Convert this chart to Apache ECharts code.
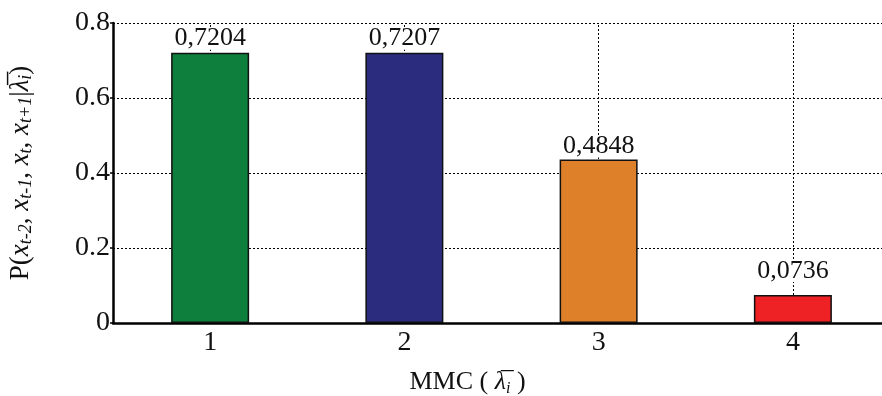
<!DOCTYPE html>
<html><head><meta charset="utf-8">
<script src="https://cdn.jsdelivr.net/npm/echarts@6/dist/echarts.min.js"></script>
<style>html,body{margin:0;padding:0;background:#fff}#c{width:882px;height:396px}</style>
</head><body><div id="c"></div>
<script>
const categories = ['1', '2', '3', '4'];
const barValues = [0.721, 0.721, 0.436, 0.075];
const barLabels = ['0,7204', '0,7207', '0,4848', '0,0736'];
const barColors = ['#0f7f3e', '#2b2c7e', '#de7f2a', '#ee2124'];
const labelGaps = [3, 3, 2, 13];
const yTicks = [0, 0.2, 0.4, 0.6, 0.8];

const FONT = 'Liberation Serif';
const chart = echarts.init(document.getElementById('c'), null, {renderer: 'canvas'});
chart.setOption({
  animation: false,
  backgroundColor: '#fff',
  grid: {left: 113, right: -8, top: 23, bottom: 73, containLabel: false, outerBoundsMode: 'none'},
  xAxis: {
    type: 'category',
    data: categories,
    name: 'MMC ( {i|λ̅}{s|i} )',
    nameLocation: 'middle',
    nameGap: 44,
    nameTextStyle: {
      fontFamily: FONT, fontSize: 26, color: '#111', padding: [0, 68, 0, 0],
      rich: {
        i: {fontFamily: FONT, fontStyle: 'italic', fontSize: 26, color: '#111'},
        s: {fontFamily: FONT, fontStyle: 'italic', fontSize: 16, color: '#111', padding: [14, 0, 0, 0]}
      }
    },
    axisLine: {lineStyle: {color: '#000', width: 2.5}},
    axisTick: {show: false},
    axisLabel: {fontFamily: FONT, fontSize: 28, color: '#111', margin: 6},
    splitLine: {show: false}
  },
  yAxis: {
    type: 'value',
    min: 0, max: 0.8, interval: 0.2,
    name: '{n|P(}{i|x}{s|t-2}{n|, }{i|x}{s|t-1}{n|, }{i|x}{s|t}{n|, }{i|x}{s|t+1}{n||}{i|λ̅}{s|i}{n|)}',
    nameLocation: 'middle',
    nameRotate: 90,
    nameGap: 78,
    nameTextStyle: {
      rich: {
        n: {fontFamily: FONT, fontSize: 27, color: '#111'},
        i: {fontFamily: FONT, fontStyle: 'italic', fontSize: 27, color: '#111'},
        s: {fontFamily: FONT, fontStyle: 'italic', fontSize: 18, color: '#111', padding: [11, 0, 0, 0]}
      }
    },
    axisLine: {show: true, lineStyle: {color: '#000', width: 2.5}},
    axisTick: {show: true, length: 3, lineStyle: {color: '#000', width: 1.5}},
    axisLabel: {
      fontFamily: FONT, fontSize: 28, color: '#111', margin: 3,
      formatter: v => (Math.abs(v) < 1e-9 ? '0' : v.toFixed(1))
    },
    splitLine: {show: true, lineStyle: {color: '#000', width: 1, type: [2, 2]}}
  },
  series: [
    {
      type: 'line',
      data: [],
      silent: true,
      z: 1,
      markLine: {
        silent: true,
        symbol: 'none',
        z: 1,
        label: {show: false},
        lineStyle: {color: '#000', width: 1, type: [2, 2]},
        data: categories.map(c => ({xAxis: c}))
      }
    },
    {
      type: 'bar',
      z: 3,
      barWidth: 78,
      data: barValues.map((v, i) => ({
        value: v,
        itemStyle: {color: barColors[i], borderColor: '#111', borderWidth: 1.5},
        label: {
          show: true,
          position: 'top',
          distance: labelGaps[i],
          formatter: barLabels[i],
          fontFamily: FONT, fontSize: 26, color: '#111',
          backgroundColor: '#fff',
          padding: [0, 8, 0, 8],
          lineHeight: 22
        }
      }))
    }
  ]
});
</script></body></html>
